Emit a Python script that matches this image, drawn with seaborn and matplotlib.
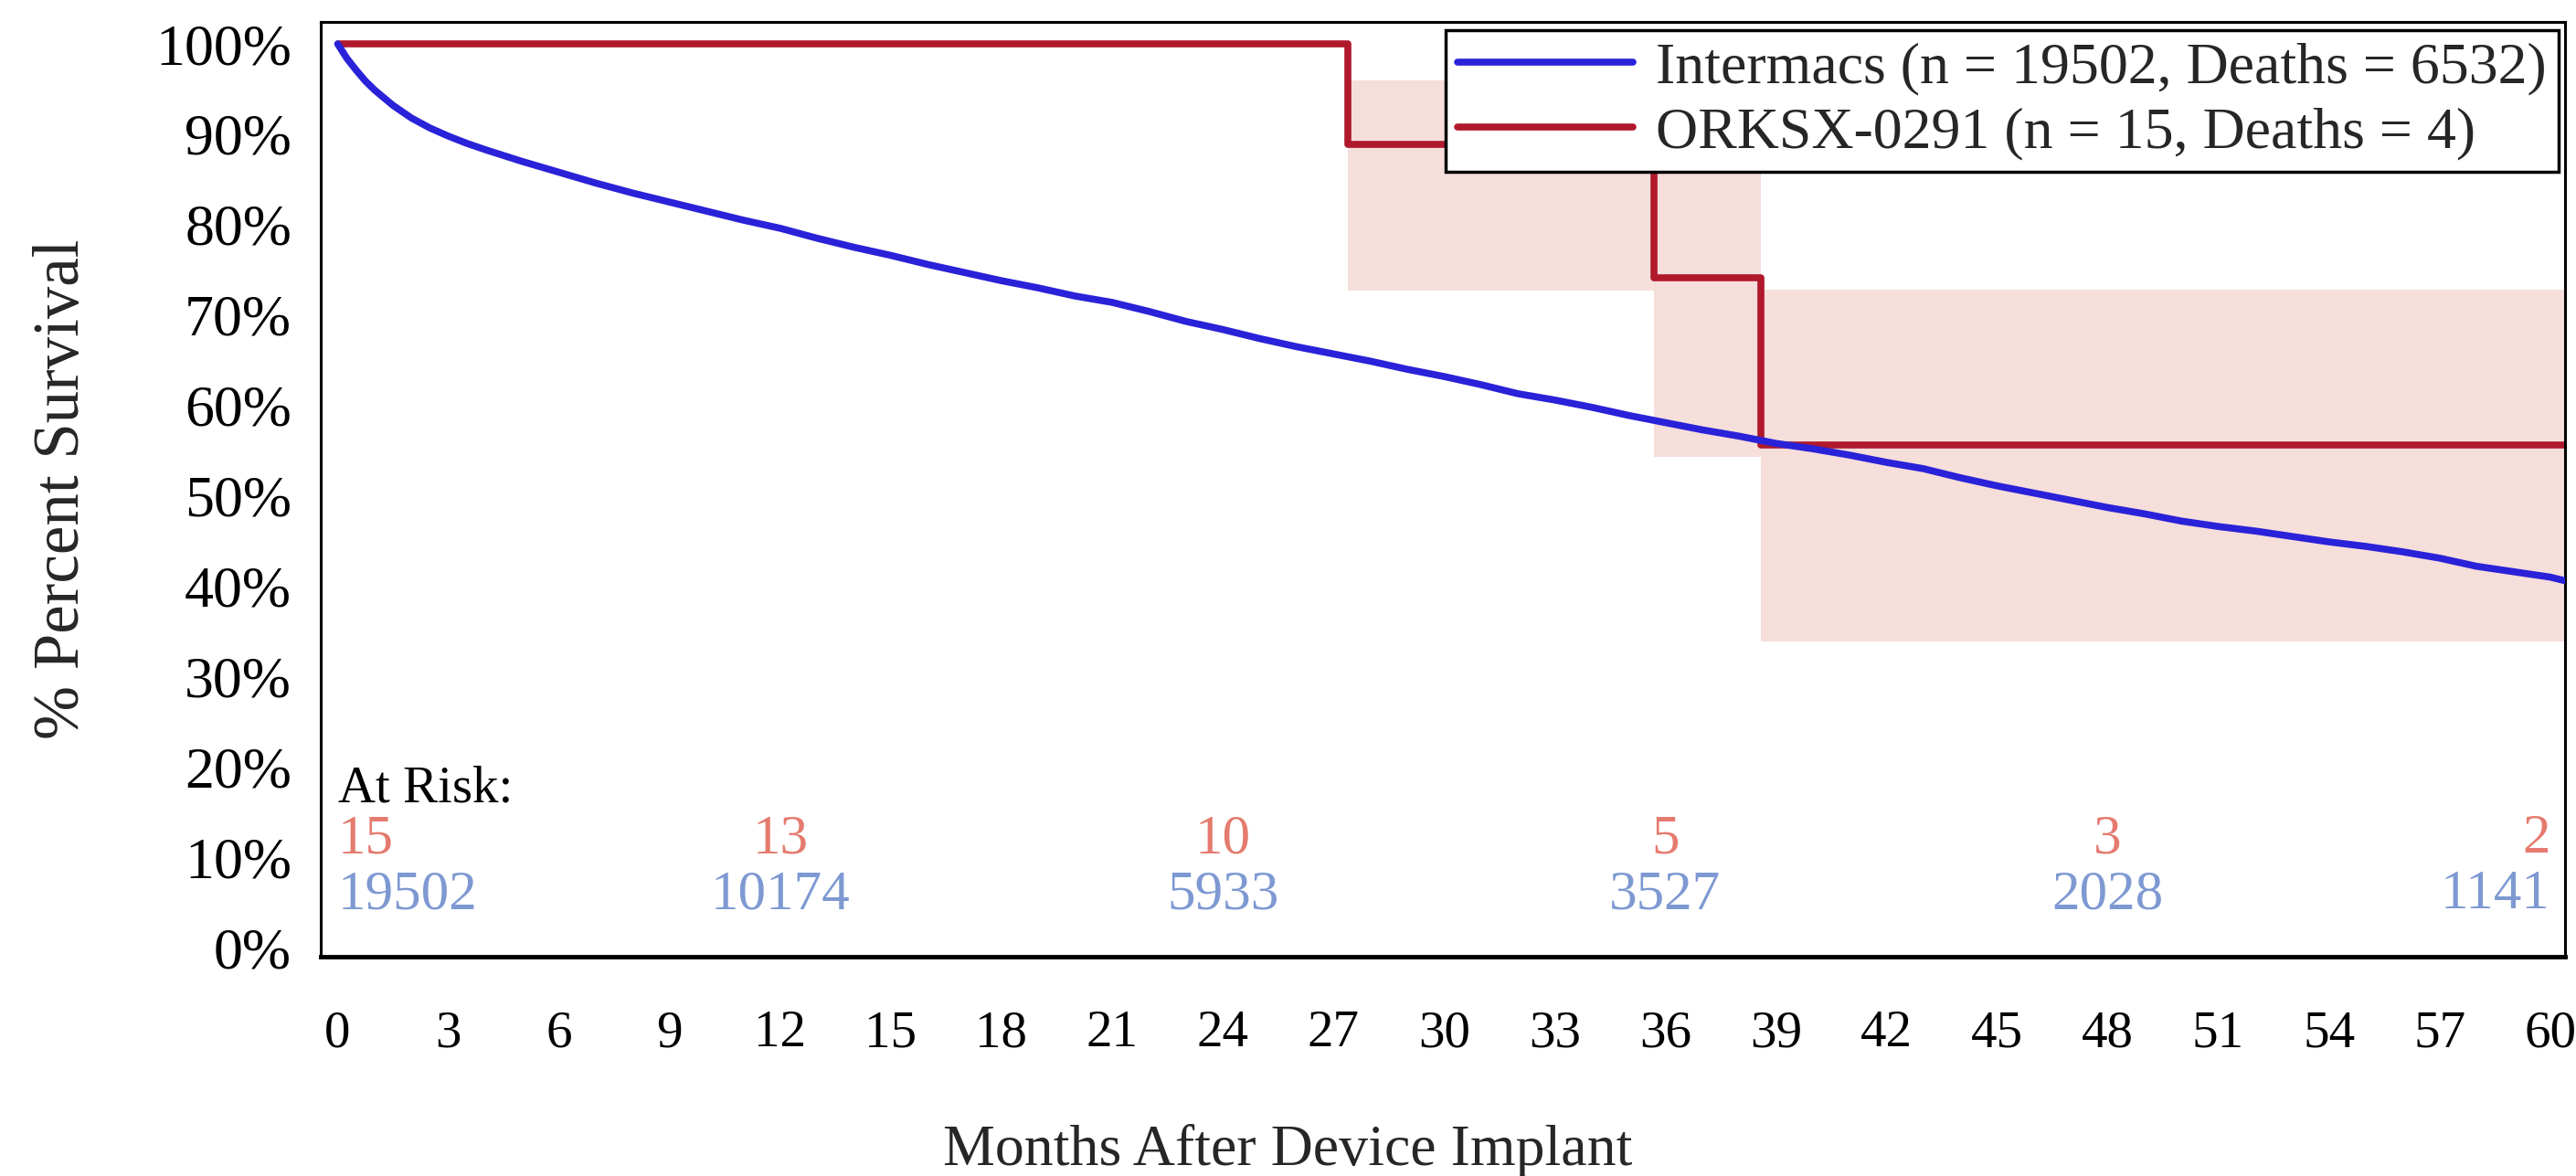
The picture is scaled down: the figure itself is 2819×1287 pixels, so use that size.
"""
Kaplan-Meier style survival chart: Intermacs vs ORKSX-0291.
"""

import matplotlib
matplotlib.use("Agg")
import matplotlib.pyplot as plt
import seaborn as sns
import pandas as pd
import numpy as np

sns.set_style("white")
plt.rcParams['font.family'] = ['Liberation Serif', 'DejaVu Serif']

# Intermacs survival curve
intermacs_months = [0, 0.25, 0.5, 0.75, 1, 1.5, 2, 2.5, 3, 3.5, 4, 5, 6, 7, 8, 9, 10, 11, 12,
                    13, 14, 15, 16, 17, 18, 19, 20, 21, 22, 23, 24, 25, 26, 27, 28, 29,
                    30, 31, 32, 33, 34, 35, 36, 37, 38, 39, 40, 41, 42, 43, 44, 45, 46,
                    47, 48, 49, 50, 51, 52, 53, 54, 55, 56, 57, 58, 59, 60, 60.4]
intermacs_surv = [100, 98.4, 97.1, 95.9, 94.9, 93.2, 91.8, 90.7, 89.8, 89.0, 88.3, 87.0, 85.8,
                  84.6, 83.5, 82.5, 81.5, 80.5, 79.6, 78.5, 77.5, 76.6, 75.6, 74.7, 73.8,
                  73.0, 72.1, 71.4, 70.4, 69.3, 68.4, 67.4, 66.5, 65.7, 64.9, 64.0, 63.2,
                  62.3, 61.3, 60.6, 59.8, 58.9, 58.1, 57.3, 56.6, 55.8, 55.2, 54.5, 53.7,
                  53.0, 52.0, 51.1, 50.3, 49.5, 48.7, 48.0, 47.2, 46.6, 46.1, 45.5, 44.9,
                  44.4, 43.8, 43.1, 42.2, 41.6, 41.0, 40.6]

# ORKSX-0291 step curve with confidence band
orksx_months = [0, 27.4, 35.7, 38.6, 60.4]
orksx_surv = [100, 88.9, 74.1, 55.6, 55.6]
orksx_lower = [100, 72.7, 54.3, 33.9, 33.9]
orksx_upper = [100, 96.0, 86.6, 72.8, 72.8]

# at-risk table
risk_months = [0, 12, 24, 36, 48, 60]
risk_orksx = [15, 13, 10, 5, 3, 2]
risk_intermacs = [19502, 10174, 5933, 3527, 2028, 1141]

labels = ['Intermacs (n = 19502, Deaths = 6532)', 'ORKSX-0291 (n = 15, Deaths = 4)']

blue = '#2A22D8'
red = '#B0182C'
band = '#F6DEDB'
risk_red = '#E47B6E'
risk_blue = '#7E99D2'

df_int = pd.DataFrame({'month': intermacs_months, 'surv': intermacs_surv})
df_ork = pd.DataFrame({'month': orksx_months, 'surv': orksx_surv})

fig = plt.figure(figsize=(28.19, 12.87), dpi=100)
ax = fig.add_axes([0.1245, 0.1865, 0.8712, 0.7946])

# confidence band (skip the 100% segment)
ax.fill_between(orksx_months[1:], orksx_lower[1:], orksx_upper[1:], step='post',
                color=band, linewidth=0, zorder=1)

sns.lineplot(data=df_int, x='month', y='surv', ax=ax, color=blue, linewidth=5.5,
             label=labels[0], zorder=3, estimator=None)
sns.lineplot(data=df_ork, x='month', y='surv', ax=ax, color=red, linewidth=5.5,
             drawstyle='steps-post', label=labels[1], zorder=2, estimator=None)

# at-risk numbers
ax.text(0, 17.6, 'At Risk:', fontsize=41, ha='left', va='center', color='black')
for i, m in enumerate(risk_months):
    ha = 'left' if i == 0 else ('right' if i == len(risk_months) - 1 else 'center')
    ax.text(m, 12.0, str(risk_orksx[i]), fontsize=44, ha=ha, va='center', color=risk_red)
    ax.text(m, 5.8, str(risk_intermacs[i]), fontsize=44, ha=ha, va='center', color=risk_blue)

ax.set_xlim(-0.46, 60.4)
ax.set_ylim(-1.0, 102.4)
ax.set_xticks(range(0, 61, 3))
ax.set_yticks(range(0, 101, 10))
ax.set_yticklabels([f'{v}%' for v in range(0, 101, 10)])
ax.tick_params(axis='both', labelsize=41, colors='black', width=2.2)
ax.tick_params(axis='y', labelsize=46, length=15, pad=8)
ax.tick_params(axis='x', length=22, pad=20)
ax.set_xlabel('Months After Device Implant', fontsize=46, labelpad=52)
# label is centred on the figure, not on the axes
ax.xaxis.label.set_x((0.5 - 0.1245) / 0.8712)
ax.set_ylabel('% Percent Survival', fontsize=51, labelpad=50)

for side in ['left', 'right', 'top']:
    ax.spines[side].set_color('black')
    ax.spines[side].set_linewidth(2.2)
ax.spines['bottom'].set_color('black')
ax.spines['bottom'].set_linewidth(3.5)

leg = ax.legend(loc='upper right', bbox_to_anchor=(0.997, 0.992), borderaxespad=0,
                fontsize=46, handlelength=3.0, fancybox=False, frameon=True,
                borderpad=0.2, labelspacing=0.2, handletextpad=0.4)
leg.get_frame().set_edgecolor('black')
leg.get_frame().set_linewidth(2.5)
leg.get_frame().set_alpha(1)

fig.savefig('out.png', dpi=100)
